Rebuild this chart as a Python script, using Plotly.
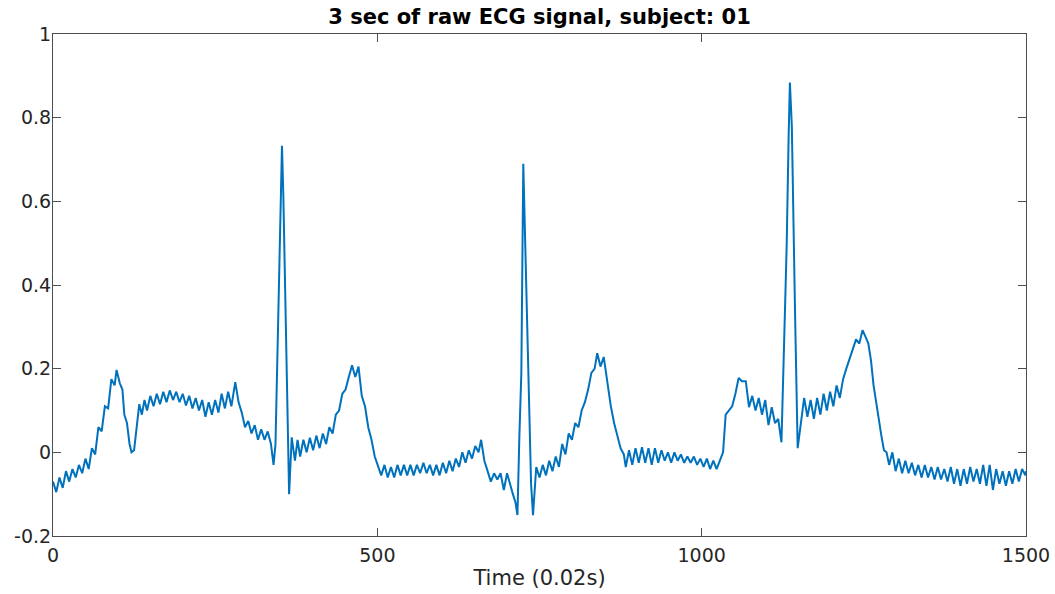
import plotly.graph_objects as go

# sample index (0.002 s steps, 1500 samples = 3 s) and ECG amplitude
sample_idx = [
    0, 5, 10, 15, 20, 25, 30, 35, 40, 45, 50, 55, 60, 65, 70, 75, 80, 85, 90, 95,
    98, 103, 107, 110, 114, 118, 121, 125, 129, 133, 137, 141, 145, 150, 155, 160,
    165, 170, 175, 180, 185, 190, 195, 200, 205, 210, 215, 220, 225, 230, 235, 240,
    245, 250, 255, 260, 265, 270, 275, 281, 286, 291, 296, 301, 306, 311, 316, 321,
    326, 331, 336, 340, 343, 346, 348, 350, 353, 355, 358, 361, 364, 368, 373, 377,
    381, 386, 391, 396, 401, 406, 411, 416, 421, 426, 431, 436, 441, 446, 451, 456,
    461, 466, 471, 476, 481, 486, 491, 496, 501, 506, 511, 516, 521, 526, 531, 536,
    541, 546, 551, 556, 561, 566, 571, 576, 581, 586, 591, 596, 601, 606, 611, 616,
    621, 626, 631, 636, 641, 646, 651, 656, 660, 665, 670, 675, 680, 685, 690, 695,
    700, 705, 709, 713, 716, 719, 722, 725, 728, 731, 734, 737, 740, 745, 750, 755,
    760, 765, 770, 775, 780, 785, 790, 795, 800, 805, 810, 815, 820, 825, 830, 835,
    839, 844, 849, 855, 860, 865, 870, 875, 880, 883, 888, 893, 898, 903, 908, 913,
    918, 923, 928, 933, 938, 943, 948, 953, 958, 963, 968, 973, 978, 983, 988, 993,
    998, 1003, 1008, 1013, 1018, 1023, 1028, 1033, 1037, 1042, 1047, 1052, 1057, 1062,
    1068, 1073, 1078, 1083, 1088, 1093, 1098, 1103, 1108, 1113, 1118, 1123, 1127, 1131,
    1134, 1136, 1139, 1142, 1144, 1148, 1153, 1158, 1163, 1168, 1173, 1178, 1183, 1188,
    1193, 1198, 1203, 1208, 1213, 1218, 1223, 1228, 1233, 1238, 1243, 1248, 1253, 1257,
    1261, 1265, 1269, 1273, 1277, 1281, 1285, 1289, 1294, 1299, 1304, 1309, 1314, 1319,
    1324, 1329, 1334, 1339, 1344, 1349, 1354, 1359, 1364, 1369, 1374, 1379, 1384, 1389,
    1394, 1399, 1404, 1409, 1414, 1419, 1424, 1429, 1434, 1439, 1444, 1449, 1454, 1459,
    1464, 1469, 1474, 1479, 1484, 1489, 1494, 1499, 1500,
]

ecg_value = [
    -0.07, -0.095, -0.06, -0.085, -0.045, -0.07, -0.04, -0.06, -0.03, -0.05, -0.015, -0.04, 0.01, -0.005, 0.06, 0.05, 0.11, 0.105, 0.175, 0.16,
    0.197, 0.165, 0.15, 0.09, 0.07, 0.02, 0.0, 0.005, 0.06, 0.115, 0.09, 0.125, 0.1, 0.135, 0.11, 0.14,
    0.115, 0.145, 0.12, 0.148, 0.125, 0.145, 0.12, 0.14, 0.112, 0.135, 0.105, 0.13, 0.1, 0.125, 0.085, 0.12,
    0.09, 0.125, 0.095, 0.14, 0.105, 0.145, 0.11, 0.168, 0.12, 0.095, 0.06, 0.075, 0.045, 0.065, 0.03, 0.055,
    0.03, 0.05, 0.02, -0.03, 0.02, 0.25, 0.4, 0.585, 0.733, 0.62, 0.39, 0.08, -0.1, 0.036, -0.02, 0.03,
    -0.01, 0.03, 0.0, 0.035, 0.005, 0.04, 0.01, 0.045, 0.02, 0.06, 0.045, 0.09, 0.1, 0.14, 0.15, 0.18,
    0.208, 0.18, 0.205, 0.135, 0.11, 0.06, 0.03, -0.01, -0.03, -0.055, -0.03, -0.06, -0.035, -0.06, -0.03, -0.055,
    -0.03, -0.055, -0.03, -0.055, -0.03, -0.05, -0.025, -0.05, -0.03, -0.055, -0.03, -0.055, -0.025, -0.05, -0.02, -0.045,
    -0.015, -0.035, 0.0, -0.025, 0.005, -0.015, 0.015, 0.0, 0.03, -0.02, -0.045, -0.07, -0.05, -0.065, -0.05, -0.09,
    -0.05, -0.08, -0.1, -0.12, -0.15, 0.04, 0.19, 0.69, 0.5, 0.35, 0.15, -0.075, -0.15, -0.035, -0.06, -0.03,
    -0.055, -0.02, -0.045, -0.01, -0.035, 0.02, -0.005, 0.045, 0.03, 0.07, 0.06, 0.1, 0.12, 0.15, 0.19, 0.2,
    0.237, 0.205, 0.228, 0.165, 0.11, 0.07, 0.04, 0.01, -0.005, -0.035, 0.005, -0.03, 0.01, -0.025, 0.012, -0.025,
    0.01, -0.03, 0.01, -0.025, 0.005, -0.02, 0.0, -0.025, 0.0, -0.02, -0.005, -0.025, -0.01, -0.025, -0.01, -0.03,
    -0.015, -0.035, -0.015, -0.04, -0.02, -0.04, -0.02, 0.0, 0.09, 0.1, 0.11, 0.14, 0.178, 0.17,
    0.17, 0.108, 0.135, 0.1, 0.13, 0.09, 0.125, 0.065, 0.108, 0.07, 0.08, 0.024, 0.236, 0.49,
    0.75, 0.884, 0.78, 0.555, 0.33, 0.01, 0.076, 0.13, 0.085, 0.125, 0.08, 0.13, 0.09, 0.14,
    0.1, 0.145, 0.11, 0.16, 0.13, 0.175, 0.2, 0.225, 0.25, 0.27, 0.26, 0.292, 0.275, 0.26,
    0.22, 0.16, 0.12, 0.076, 0.04, 0.005, 0.0, -0.03, 0.0, -0.045, -0.015, -0.05, -0.02, -0.05,
    -0.025, -0.055, -0.03, -0.06, -0.03, -0.06, -0.035, -0.065, -0.035, -0.065, -0.04, -0.07, -0.035, -0.075,
    -0.04, -0.08, -0.04, -0.075, -0.035, -0.07, -0.04, -0.075, -0.03, -0.08, -0.03, -0.09, -0.04, -0.075,
    -0.045, -0.08, -0.045, -0.075, -0.04, -0.07, -0.04, -0.055, -0.045,
]

x_ticks = [0, 500, 1000, 1500]
x_tick_labels = ["0", "500", "1000", "1500"]
y_ticks = [-0.2, 0, 0.2, 0.4, 0.6, 0.8, 1]
y_tick_labels = ["-0.2", "0", "0.2", "0.4", "0.6", "0.8", "1"]

fig = go.Figure()
fig.add_trace(go.Scatter(
    x=sample_idx, y=ecg_value, mode="lines",
    line=dict(color="#0072BD", width=2),
    showlegend=False,
))

axis_col = "#4d4d4d"
font_fam = "DejaVu Sans"

fig.update_layout(
    width=1055, height=594,
    margin=dict(l=53, r=29, t=34, b=58, autoexpand=False),
    paper_bgcolor="white", plot_bgcolor="white",
    font=dict(family=font_fam, size=19, color="#262626"),
    title=dict(
        text="<b>3 sec of raw ECG signal, subject: 01</b>",
        x=0.5, xref="paper", xanchor="center",
        y=1 - 17 / 594, yref="container", yanchor="middle",
        font=dict(family=font_fam, size=21, color="#000000"),
    ),
    xaxis=dict(
        range=[0, 1500], tickvals=x_ticks, ticktext=x_tick_labels,
        showgrid=False, zeroline=False, showline=True, linecolor=axis_col, linewidth=1,
        mirror="ticks", ticks="inside", ticklen=8, tickcolor=axis_col, tickwidth=1,
        title=dict(text="Time (0.02s)", standoff=5, font=dict(size=21)),
        tickfont=dict(size=19), automargin=False, ticklabelstandoff=2,
    ),
    yaxis=dict(
        range=[-0.2, 1], tickvals=y_ticks, ticktext=y_tick_labels,
        showgrid=False, zeroline=False, showline=True, linecolor=axis_col, linewidth=1,
        mirror="ticks", ticks="inside", ticklen=8, tickcolor=axis_col, tickwidth=1,
        tickfont=dict(size=19), automargin=False, ticklabelstandoff=-3,
    ),
)

fig.write_html(
    "out.html",
    config={"displayModeBar": False},
    post_script="document.body.style.margin='0';document.body.style.overflow='hidden';",
)
